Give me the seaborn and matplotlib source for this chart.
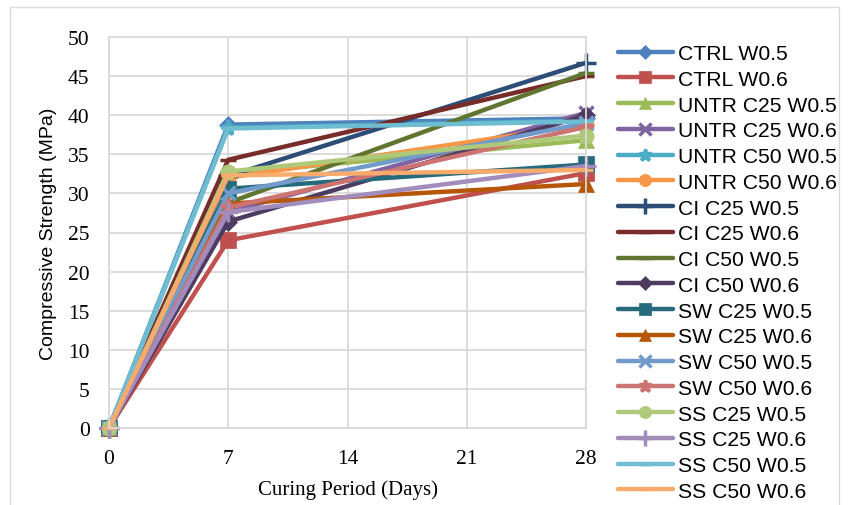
import matplotlib
matplotlib.use("Agg")
import matplotlib.pyplot as plt
import seaborn as sns
import pandas as pd
from matplotlib.patches import Rectangle

days = [0, 7, 28]
series_names = [
    "CTRL W0.5", "CTRL W0.6", "UNTR C25 W0.5", "UNTR C25 W0.6",
    "UNTR C50 W0.5", "UNTR C50 W0.6", "CI C25 W0.5", "CI C25 W0.6",
    "CI C50 W0.5", "CI C50 W0.6", "SW C25 W0.5", "SW C25 W0.6",
    "SW C50 W0.5", "SW C50 W0.6", "SS C25 W0.5", "SS C25 W0.6",
    "SS C50 W0.5", "SS C50 W0.6",
]
ctrl_w05 = [0, 38.8, 39.6]
ctrl_w06 = [0, 24.0, 32.6]
untr_c25_w05 = [0, 32.5, 36.8]
untr_c25_w06 = [0, 27.6, 40.3]
untr_c50_w05 = [0, 38.4, 39.3]
untr_c50_w06 = [0, 32.0, 38.8]
ci_c25_w05 = [0, 32.2, 46.7]
ci_c25_w06 = [0, 34.3, 45.0]
ci_c50_w05 = [0, 28.8, 45.4]
ci_c50_w06 = [0, 26.4, 40.0]
sw_c25_w05 = [0, 30.6, 33.7]
sw_c25_w06 = [0, 28.7, 31.2]
sw_c50_w05 = [0, 30.0, 39.0]
sw_c50_w06 = [0, 28.2, 38.5]
ss_c25_w05 = [0, 32.8, 37.4]
ss_c25_w06 = [0, 27.6, 33.5]
ss_c50_w05 = [0, 38.3, 39.2]
ss_c50_w06 = [0, 32.3, 33.0]

values = [ctrl_w05, ctrl_w06, untr_c25_w05, untr_c25_w06, untr_c50_w05,
          untr_c50_w06, ci_c25_w05, ci_c25_w06, ci_c50_w05, ci_c50_w06,
          sw_c25_w05, sw_c25_w06, sw_c50_w05, sw_c50_w06, ss_c25_w05,
          ss_c25_w06, ss_c50_w05, ss_c50_w06]

colors = ["#4F81BD", "#C0504D", "#9BBB59", "#8064A2", "#4BACC6", "#F79646",
          "#2C4D75", "#772C2A", "#5F7530", "#4D3B62", "#276A7C", "#B65708",
          "#729ACA", "#CD7371", "#AFC97A", "#A18CBB", "#6FBDD1", "#F9AB6B"]
markers = ["D", "s", "^", "x", "*", "o", "+", "_", "_", "D", "s", "^", "x",
           "*", "o", "+", "_", "_"]
msizes = [9, 11, 11, 10, 11, 11, 14, 12, 12, 9, 11, 11, 10, 11, 11, 14, 10, 10]

sns.set_theme(style="white")
plt.rcParams["font.family"] = ["Liberation Sans", "DejaVu Sans"]

fig = plt.figure(figsize=(8.48, 5.06), dpi=100)
ax = fig.add_axes([109 / 848, 1 - 429 / 506, (586 - 109) / 848, (429 - 38) / 506])

# chart border
fig.patches.append(Rectangle((10 / 848, -0.05), (839 - 10) / 848, 1 - 8 / 506 + 0.05,
                             transform=fig.transFigure, fill=False,
                             edgecolor="#D9D9D9", linewidth=1.0, zorder=0))

for name, vals, c, m, ms in zip(series_names, values, colors, markers, msizes):
    df = pd.DataFrame({"day": days, "mpa": vals})
    sns.lineplot(data=df, x="day", y="mpa", ax=ax, color=c, linewidth=3.2,
                 marker=m, markersize=ms, label=name, legend=False,
                 solid_capstyle="round", clip_on=False)

for line in ax.lines:
    c = line.get_color()
    line.set_markeredgecolor(c)
    line.set_markerfacecolor(c)
    mk = line.get_marker()
    if mk in ("x", "+", "*", "_"):
        line.set_markeredgewidth(2.5)
    else:
        line.set_markeredgewidth(0.5)

ax.set_xlim(0, 28)
ax.set_ylim(0, 50)
ax.set_xticks([0, 7, 14, 21, 28])
ax.set_yticks(range(0, 51, 5))
ax.grid(True, color="#D9D9D9", linewidth=1.3)
for s in ax.spines.values():
    s.set_color("#D9D9D9")
    s.set_linewidth(1.3)
ax.tick_params(axis="both", length=0, labelsize=15.5)
ax.tick_params(axis="x", pad=15)
ax.tick_params(axis="y", pad=14)
for lab in ax.get_xticklabels() + ax.get_yticklabels():
    lab.set_fontfamily("Liberation Serif")
    lab.set_color("#000000")

ax.set_xlabel("Curing Period (Days)", fontfamily="Liberation Serif",
              fontsize=15, color="black", labelpad=8)
ax.set_ylabel("Compressive Strength (MPa)", fontsize=14, color="black",
              labelpad=8)

handles = ax.lines[:len(series_names)]
leg = fig.legend(handles, series_names, loc="upper left",
                 bbox_to_anchor=(618 / 848, 1 - 45 / 506), frameon=False,
                 fontsize=15.2, handlelength=2.6, handletextpad=0.25,
                 labelspacing=0.32, borderpad=0, borderaxespad=0,
                 markerscale=0.8)
for t in leg.get_texts():
    t.set_color("black")

fig.savefig("out.png", dpi=100)
